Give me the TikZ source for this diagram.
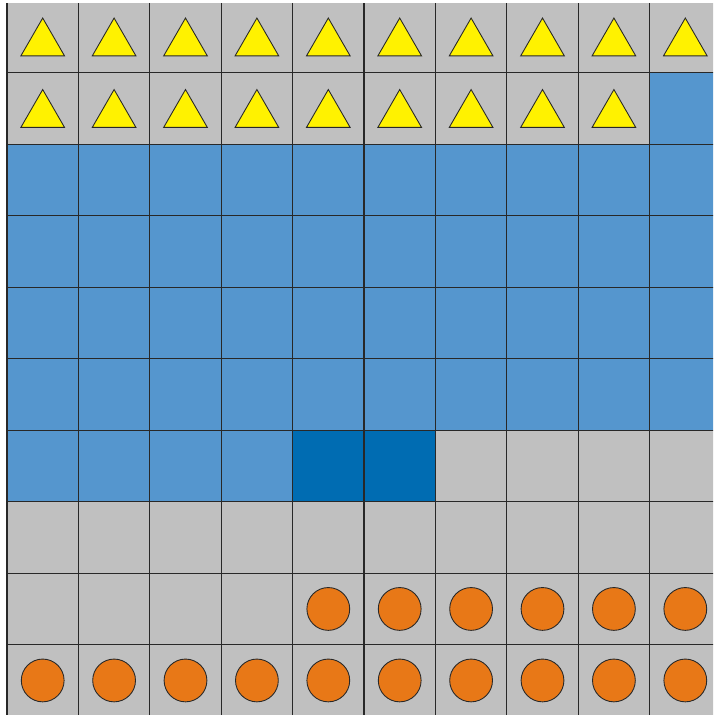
\documentclass[tikz,border=0pt]{standalone}
\begin{document}
\begin{tikzpicture}[x=0.02cm,y=-0.02cm]
\definecolor{cellgray}{RGB}{192,192,192}
\definecolor{cellblue}{RGB}{85,150,206}
\definecolor{darkblue}{RGB}{0,108,178}
\definecolor{triyellow}{RGB}{255,242,0}
\definecolor{dotorange}{RGB}{232,120,23}
\definecolor{gridline}{RGB}{40,40,40}
\tikzset{
  gridstroke/.style={draw=gridline,line width=0.7pt},
  tri/.style={fill=triyellow,draw=gridline,line width=0.5pt,line join=miter},
  dot/.style={fill=dotorange,draw=gridline,line width=0.5pt}
}
\useasboundingbox (0,0) rectangle (713,715);
\begin{scope}
\clip (6,4) rectangle (713,715);
% cells: row r, column c
\foreach \r in {0,...,9}{
  \foreach \c in {0,...,9}{
    \pgfmathsetmacro{\xa}{7+71.4*\c}
    \pgfmathsetmacro{\ya}{1.2+71.5*\r}
    \pgfmathsetmacro{\xb}{\xa+71.4}
    \pgfmathsetmacro{\yb}{\ya+71.5}
    % colour selection
    \pgfmathtruncatemacro{\kind}{
      (\r==1 && \c==9) ? 1 :
      ((\r>=2 && \r<=5) ? 1 :
      ((\r==6 && \c<=3) ? 1 :
      ((\r==6 && (\c==4 || \c==5)) ? 2 : 0)))}
    \ifcase\kind
      \fill[cellgray] (\xa,\ya) rectangle (\xb,\yb);
    \or
      \fill[cellblue] (\xa,\ya) rectangle (\xb,\yb);
    \or
      \fill[darkblue] (\xa,\ya) rectangle (\xb,\yb);
    \fi
  }
}
% grid lines
\foreach \c in {0,...,10}{
  \draw[gridstroke] ({7+71.4*\c},0) -- ({7+71.4*\c},720);
}
\foreach \r in {0,...,10}{
  \draw[gridstroke] (0,{1.2+71.5*\r}) -- (720,{1.2+71.5*\r});
}
% triangles
\foreach \r/\n in {0/9,1/8}{
  \foreach \c in {0,...,\n}{
    \pgfmathsetmacro{\cx}{7+71.4*\c+35.7}
    \pgfmathsetmacro{\cy}{1.2+71.5*\r+35.75}
    \draw[tri] (\cx,\cy-18.9) -- (\cx+21.8,\cy+18.9) -- (\cx-21.8,\cy+18.9) -- cycle;
  }
}
% circles
\foreach \c in {4,...,9}{
  \pgfmathsetmacro{\cx}{7+71.4*\c+35.7}
  \pgfmathsetmacro{\cy}{1.2+71.5*8+35.75}
  \draw[dot] (\cx,\cy) circle [radius=21.4];
}
\foreach \c in {0,...,9}{
  \pgfmathsetmacro{\cx}{7+71.4*\c+35.7}
  \pgfmathsetmacro{\cy}{1.2+71.5*9+35.75}
  \draw[dot] (\cx,\cy) circle [radius=21.4];
}
\end{scope}
\end{tikzpicture}
\end{document}
